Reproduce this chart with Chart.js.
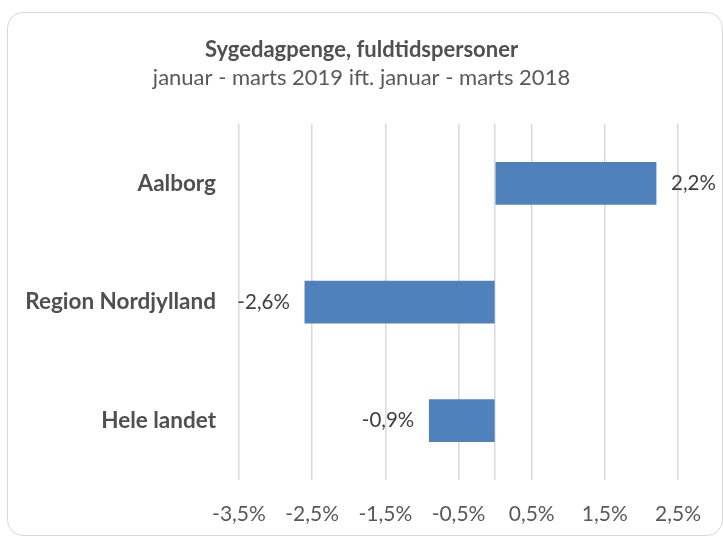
<!DOCTYPE html>
<html>
<head>
<meta charset="utf-8">
<script src="https://cdn.jsdelivr.net/npm/chart.js@4.4.1/dist/chart.umd.min.js"></script>
<style>
  html, body { margin: 0; padding: 0; background: #ffffff; }
  #wrap { position: relative; width: 723px; height: 536px; overflow: hidden; }
  #frame { position: absolute; left: 7px; top: 12px; width: 716px; height: 524px;
           border: 1.5px solid #d9d9d9; border-radius: 16px; box-sizing: border-box; }
  #c { position: absolute; left: 0; top: 0; }
</style>
</head>
<body>
<div id="wrap">
  <div id="frame"></div>
  <canvas id="c" width="723" height="536"></canvas>
</div>
<script>
const titleText = 'Sygedagpenge, fuldtidspersoner';
const subtitleText = 'januar - marts 2019 ift. januar - marts 2018';
const categories = ['Aalborg', 'Region Nordjylland', 'Hele landet'];
const values = [2.2, -2.6, -0.9];
const tickValues = [-3.5, -2.5, -1.5, -0.5, 0, 0.5, 1.5, 2.5];
const axisMin = -3.5;
const axisMax = 3.1;

const fmt = v => v.toFixed(1).replace('.', ',') + '%';
const FONT = 'Lato, "Open Sans", sans-serif';

const dataLabels = {
  id: 'dataLabels',
  afterDatasetsDraw(chart) {
    const ctx = chart.ctx;
    const meta = chart.getDatasetMeta(0);
    ctx.save();
    ctx.font = '20.5px ' + FONT;
    ctx.fillStyle = '#404040';
    ctx.textBaseline = 'middle';
    meta.data.forEach((bar, i) => {
      const v = chart.data.datasets[0].data[i];
      if (v >= 0) { ctx.textAlign = 'left'; ctx.fillText(fmt(v), bar.x + 15, bar.y); }
      else { ctx.textAlign = 'right'; ctx.fillText(fmt(v), bar.x - 15, bar.y); }
    });
    ctx.restore();
  }
};

new Chart(document.getElementById('c'), {
  type: 'bar',
  data: {
    labels: categories,
    datasets: [{
      data: values,
      backgroundColor: '#4F81BD',
      barThickness: 42
    }]
  },
  plugins: [dataLabels],
  options: {
    indexAxis: 'y',
    responsive: false,
    animation: false,
    devicePixelRatio: 1,
    layout: { padding: { left: 0, right: 0, top: 0, bottom: 0 } },
    plugins: {
      legend: { display: false },
      tooltip: { enabled: false },
      title: {
        display: true,
        text: titleText,
        color: '#505050',
        font: { family: FONT, size: 22, weight: 'bold', lineHeight: 1.2 },
        padding: { top: 37, bottom: 1 }
      },
      subtitle: {
        display: true,
        text: subtitleText,
        color: '#595959',
        font: { family: FONT, size: 22, weight: 'normal', lineHeight: 1.2 },
        padding: { top: 0, bottom: 33.3 }
      }
    },
    scales: {
      x: {
        type: 'linear',
        min: axisMin,
        max: axisMax,
        afterBuildTicks(scale) { scale.ticks = tickValues.map(v => ({ value: v })); },
        afterFit(scale) { scale.height = 56; },
        grid: { color: '#d9d9d9', lineWidth: 1.5, drawTicks: false },
        border: { display: false },
        ticks: {
          autoSkip: false, maxRotation: 0, padding: 22,
          color: '#595959',
          font: { family: FONT, size: 21 },
          callback: v => (v === 0 ? '' : fmt(v))
        }
      },
      y: {
        afterFit(scale) { scale.width = 239; },
        grid: { display: false, drawTicks: false },
        border: { display: false },
        ticks: {
          padding: 23,
          color: '#505050',
          font: { family: FONT, size: 22.5, weight: 'bold' }
        }
      }
    }
  }
});
</script>
</body>
</html>
